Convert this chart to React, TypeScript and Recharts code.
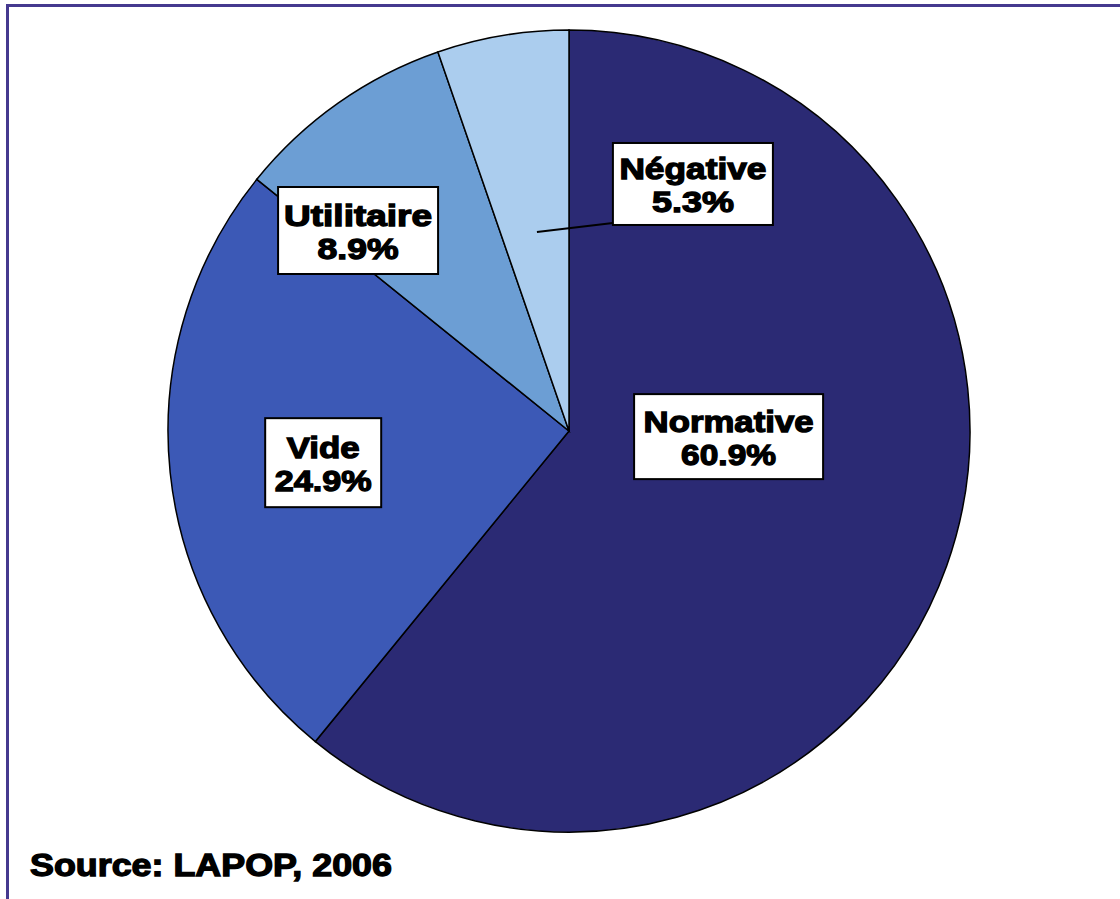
import { PieChart, Pie, Cell } from 'recharts';

const categories = ['Normative', 'Vide', 'Utilitaire', 'Négative'];
const shares = [60.9, 24.9, 8.9, 5.3];
const colors = ['#2b2a74', '#3c59b6', '#6c9ed4', '#abcdee'];

const data = categories.map((name, i) => ({ name, value: shares[i] }));

// label boxes, placed relative to the pie centre in units of the radius
const labelLayout: Record<string, { dx: number; dy: number; w: number; h: number; w1: number; w2: number; leader?: [number, number] }> = {
  Normative: { dx: 0.398, dy: 0.014, w: 189, h: 85, w1: 170, w2: 95 },
  Vide: { dx: -0.613, dy: 0.079, w: 116, h: 89, w1: 73, w2: 97 },
  Utilitaire: { dx: -0.526, dy: -0.5, w: 160, h: 87, w1: 148, w2: 81 },
  'Négative': { dx: 0.309, dy: -0.616, w: 160, h: 82, w1: 147, w2: 82, leader: [-0.08, -0.496] },
};

const FONT = '"Liberation Sans", Arial, sans-serif';

function renderLabel(props: any) {
  const { cx, cy, outerRadius, name, value } = props;
  const l = labelLayout[name];
  if (!l) return null;
  const x = cx + l.dx * outerRadius;
  const y = cy + l.dy * outerRadius;
  const textStyle = {
    fontFamily: FONT,
    fontWeight: 700,
    fontSize: 30,
    fill: '#000',
    stroke: '#000',
    strokeWidth: 1.3,
  };
  return (
    <g>
      {l.leader && (
        <line
          x1={cx + l.leader[0] * outerRadius}
          y1={cy + l.leader[1] * outerRadius}
          x2={x - l.w / 2}
          y2={y + l.h / 2 - 2}
          stroke="#000"
          strokeWidth={2}
        />
      )}
      <rect x={x - l.w / 2} y={y - l.h / 2} width={l.w} height={l.h} fill="#fff" stroke="#000" strokeWidth={2} />
      <text x={x} y={y - 5} textAnchor="middle" textLength={l.w1} lengthAdjust="spacingAndGlyphs" style={textStyle}>
        {name}
      </text>
      <text x={x} y={y + 28} textAnchor="middle" textLength={l.w2} lengthAdjust="spacingAndGlyphs" style={textStyle}>
        {`${value.toFixed(1)}%`}
      </text>
    </g>
  );
}

export default function App() {
  return (
    <div style={{ position: 'fixed', left: 0, top: 0, width: 1120, height: 899, background: '#fff', overflow: 'hidden' }}>
      <div
        style={{
          position: 'absolute',
          left: 6,
          top: 4,
          width: 1200,
          height: 1000,
          borderTop: '3px solid #45398f',
          borderLeft: '3px solid #45398f',
        }}
      />
      <div style={{ position: 'absolute', left: 0, top: 0 }}>
        <PieChart width={1120} height={899} margin={{ top: 0, right: 0, bottom: 0, left: 0 }}>
          <Pie
            data={data}
            dataKey="value"
            nameKey="name"
            cx={569}
            cy={431}
            outerRadius={401}
            startAngle={90}
            endAngle={-270}
            stroke="#000"
            strokeWidth={1.5}
            label={renderLabel}
            labelLine={false}
            isAnimationActive={false}
          >
            {data.map((d, i) => (
              <Cell key={d.name} fill={colors[i]} />
            ))}
          </Pie>
        </PieChart>
      </div>
      <svg style={{ position: 'absolute', left: 0, top: 0 }} width={1120} height={899}>
        <text
          x={30}
          y={876}
          textLength={362}
          lengthAdjust="spacingAndGlyphs"
          style={{ fontFamily: FONT, fontWeight: 700, fontSize: 31, fill: '#000', stroke: '#000', strokeWidth: 1.3 }}
        >
          Source: LAPOP, 2006
        </text>
      </svg>
    </div>
  );
}
